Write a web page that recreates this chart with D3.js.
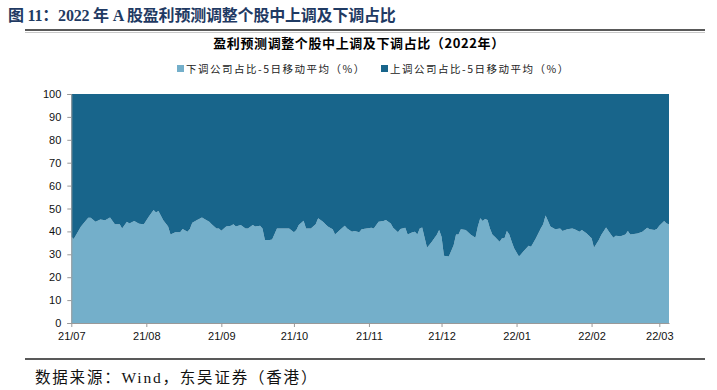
<!DOCTYPE html>
<html><head><meta charset="utf-8">
<script src="https://cdn.jsdelivr.net/npm/d3@7"></script>
<style>
body{margin:0;background:#fff;}
svg{display:block;}
</style></head>
<body><svg id="c" width="717" height="390"></svg>
<script>
const dates = [
"2021-07-01","2021-07-02","2021-07-05","2021-07-08","2021-07-09","2021-07-11","2021-07-13","2021-07-15","2021-07-17","2021-07-19",
"2021-07-21","2021-07-22","2021-07-24","2021-07-25","2021-07-27","2021-07-29","2021-07-31","2021-08-02","2021-08-04","2021-08-05",
"2021-08-06","2021-08-08","2021-08-10","2021-08-11","2021-08-13","2021-08-15","2021-08-16","2021-08-18","2021-08-19","2021-08-20",
"2021-08-22","2021-08-24","2021-08-25","2021-08-27","2021-08-28","2021-08-30","2021-08-31","2021-09-01","2021-09-03","2021-09-05",
"2021-09-06","2021-09-07","2021-09-09","2021-09-11","2021-09-12","2021-09-14","2021-09-15","2021-09-17","2021-09-18","2021-09-19",
"2021-09-21","2021-09-22","2021-09-24","2021-09-26","2021-09-29","2021-10-01","2021-10-02","2021-10-03","2021-10-05","2021-10-06",
"2021-10-08","2021-10-10","2021-10-11","2021-10-13","2021-10-15","2021-10-17","2021-10-18","2021-10-20","2021-10-22","2021-10-23",
"2021-10-25","2021-10-26","2021-10-28","2021-10-29","2021-10-31","2021-11-02","2021-11-03","2021-11-05","2021-11-07","2021-11-08",
"2021-11-10","2021-11-11","2021-11-13","2021-11-14","2021-11-16","2021-11-17","2021-11-19","2021-11-20","2021-11-21","2021-11-22",
"2021-11-23","2021-11-25","2021-11-27","2021-11-28","2021-11-29","2021-11-30","2021-12-01","2021-12-02","2021-12-04","2021-12-06",
"2021-12-07","2021-12-08","2021-12-09","2021-12-11","2021-12-13","2021-12-15","2021-12-16","2021-12-17","2021-12-18","2021-12-19",
"2021-12-20","2021-12-21","2021-12-22","2021-12-23","2021-12-25","2021-12-26","2021-12-27","2021-12-28","2021-12-29","2021-12-30",
"2021-12-31","2022-01-02","2022-01-04","2022-01-06","2022-01-07","2022-01-09","2022-01-11","2022-01-12","2022-01-13","2022-01-14",
"2022-01-15","2022-01-17","2022-01-19","2022-01-20","2022-01-22","2022-01-24","2022-01-25","2022-01-27","2022-01-28","2022-01-30",
"2022-02-01","2022-02-02","2022-02-04","2022-02-05","2022-02-07","2022-02-09","2022-02-10","2022-02-11","2022-02-13","2022-02-15",
"2022-02-16","2022-02-17","2022-02-20","2022-02-22","2022-02-24","2022-02-25","2022-02-27","2022-02-28","2022-03-01","2022-03-03",
"2022-03-04","2022-03-05"
];
const downValues = [
37.7,36.7,42.1,46.0,46.0,44.2,45.2,44.9,46.1,43.1,
43.1,41.3,44.2,43.4,44.5,43.3,43.1,46.4,49.3,48.3,
48.9,44.9,42.1,38.7,39.6,39.6,41.0,39.9,41.0,43.8,
45.0,46.1,45.4,44.2,43.1,41.3,41.3,40.3,42.1,42.5,
43.1,42.1,42.8,41.3,41.3,42.8,42.1,42.5,41.3,36.2,
36.2,36.5,41.3,41.3,41.3,39.6,40.6,42.8,44.7,41.3,
41.3,43.1,45.7,44.2,42.1,40.9,38.7,40.6,42.5,41.3,
39.9,40.2,39.6,40.9,41.3,41.6,41.3,44.2,44.5,45.0,
43.4,41.6,39.6,41.0,41.6,38.7,39.6,39.9,38.7,41.3,
41.7,32.9,35.5,37.0,38.4,40.6,37.7,29.4,29.0,34.0,
38.7,38.7,40.9,40.6,38.7,37.2,42.1,45.7,44.5,45.4,
45.0,41.3,38.7,37.7,35.5,37.0,37.0,40.2,38.7,35.5,
32.6,29.0,31.4,33.7,33.3,37.0,41.3,43.1,46.9,44.5,
42.1,40.9,41.3,40.2,40.9,41.3,40.9,39.9,40.6,39.1,
37.0,32.9,36.2,38.4,41.7,38.7,37.2,38.1,37.9,38.7,
40.2,38.7,39.1,39.9,41.6,40.9,40.6,41.0,42.5,44.5,
43.5,43.1
];
const upValues = downValues.map(v => +(100 - v).toFixed(1));
const seriesNames = ["下调公司占比-5日移动平均（%）","上调公司占比-5日移动平均（%）"];
const yTicks = [0,10,20,30,40,50,60,70,80,90,100];
const xTickDates = ["2021-07-01","2021-08-01","2021-09-01","2021-10-01","2021-11-01","2021-12-01","2022-01-01","2022-02-01","2022-03-01"];

const colors = ["#74afca","#18658b"];
const parse = d3.timeParse("%Y-%m-%d");
const rows = dates.map((d,i)=>({date:parse(d), down:downValues[i], up:upValues[i]}));

const svg = d3.select("#c");

// title
svg.append("text").attr("x",8).attr("y",21)
  .attr("font-family","'Liberation Serif','Noto Sans CJK SC',serif")
  .attr("font-weight","bold").attr("font-size",16).attr("fill","#1f3a63")
  .attr("letter-spacing",-0.2)
  .text("图 11：2022 年 A 股盈利预测调整个股中上调及下调占比");
svg.append("line").attr("x1",25).attr("x2",705).attr("y1",30).attr("y2",30)
  .attr("stroke","#222").attr("stroke-width",1.6);
svg.append("line").attr("x1",25).attr("x2",705).attr("y1",32.5).attr("y2",32.5)
  .attr("stroke","#bbb").attr("stroke-width",0.8);

svg.append("text").attr("x",359).attr("y",48).attr("text-anchor","middle")
  .attr("font-family","'Noto Sans CJK SC',sans-serif").attr("font-weight","bold")
  .attr("font-size",13).attr("letter-spacing",0.6).attr("fill","#000")
  .text("盈利预测调整个股中上调及下调占比（2022年）");

// legend
const legX = [177, 381];
seriesNames.forEach((n,i)=>{
  svg.append("rect").attr("x",legX[i]).attr("y",65).attr("width",7).attr("height",7).attr("fill",colors[i]);
  svg.append("text").attr("x",legX[i]+9).attr("y",72.5)
    .attr("font-family","'Noto Sans CJK SC',sans-serif").attr("font-size",10.5)
    .attr("letter-spacing",1.5).attr("fill","#222").text(n);
});

const x = d3.scaleTime().domain([parse("2021-07-01"), parse("2022-03-05")]).range([71.3, 669]);
const y = d3.scaleLinear().domain([0,100]).range([323, 94]);

const stack = d3.stack().keys(["down","up"]);
const layers = stack(rows);
const area = d3.area().x(d=>x(d.data.date)).y0(d=>y(d[0])).y1(d=>y(d[1]));
svg.append("g").selectAll("path").data(layers).join("path")
  .attr("d",area).attr("fill",(d,i)=>colors[i]);

// axes
const yAxis = d3.axisLeft(y).tickValues(yTicks).tickSize(4).tickPadding(6);
const gy = svg.append("g").attr("transform","translate(71.3,0)").call(yAxis);
gy.selectAll("text").attr("font-family","'Liberation Sans',Arial,sans-serif").attr("font-size",11).attr("fill","#111");
gy.selectAll("line,path").attr("stroke","#999");

const xAxis = d3.axisBottom(x).tickValues(xTickDates.map(parse)).tickFormat(d3.timeFormat("%y/%m")).tickSize(4).tickSizeOuter(0).tickPadding(5);
const gx = svg.append("g").attr("transform","translate(0,323)").call(xAxis);
gx.selectAll("text").attr("font-family","'Liberation Sans',Arial,sans-serif").attr("font-size",11).attr("fill","#111");
gx.selectAll("line,path").attr("stroke","#999");

// footer
svg.append("line").attr("x1",25).attr("x2",705).attr("y1",359).attr("y2",359)
  .attr("stroke","#222").attr("stroke-width",1.4);
svg.append("text").attr("x",35).attr("y",383)
  .attr("font-family","'Liberation Serif','Noto Sans CJK SC',serif")
  .attr("font-size",15.5).attr("letter-spacing",1.8).attr("fill","#111")
  .text("数据来源：Wind，东吴证券（香港）");
</script></body></html>
